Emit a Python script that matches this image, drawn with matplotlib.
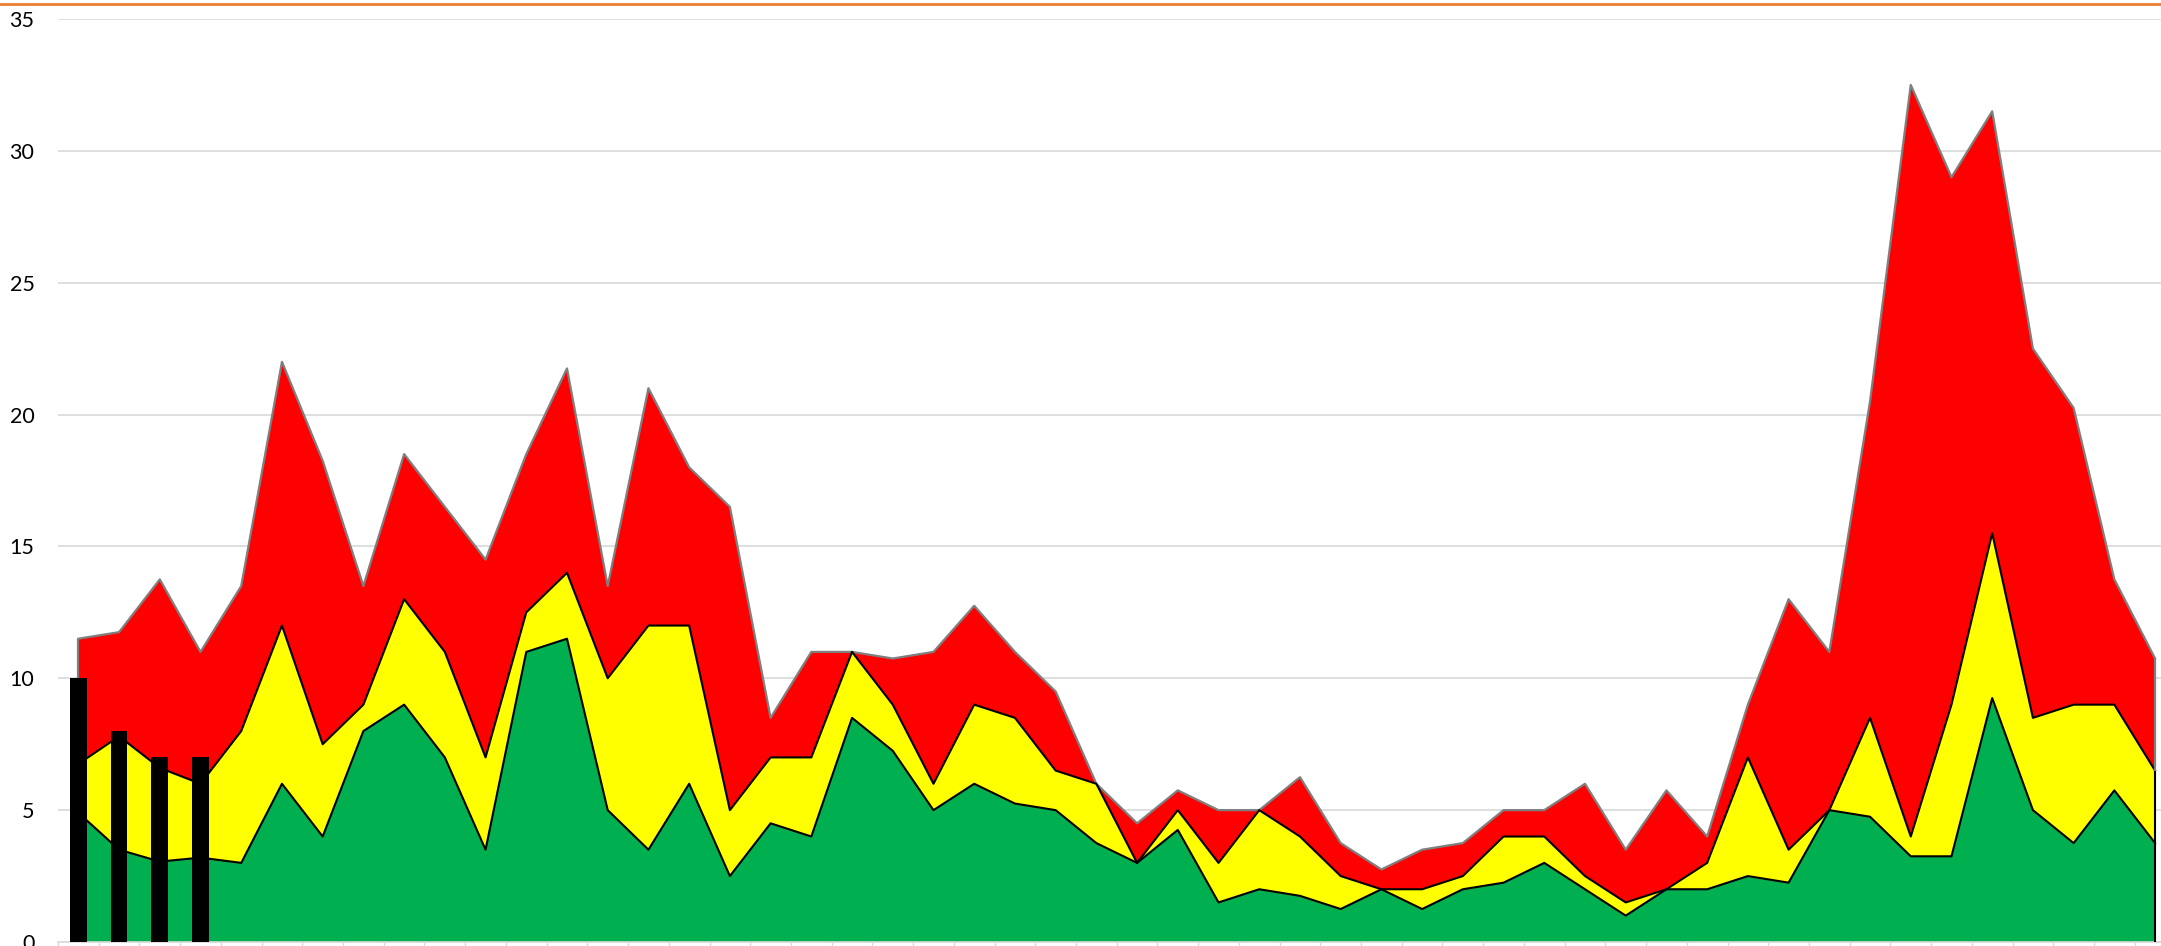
import matplotlib
matplotlib.use("Agg")
import matplotlib.pyplot as plt
from matplotlib.lines import Line2D
import numpy as np

# stacked series, one value per category (52 categories)
green = [4.9, 3.5, 3.05, 3.2, 3.0, 6.0, 4.0, 8.0, 9.0, 7.0, 3.5, 11.0, 11.5,
         5.0, 3.5, 6.0, 2.5, 4.5, 4.0, 8.5, 7.25, 5.0, 6.0, 5.25, 5.0, 3.75,
         3.0, 4.25, 1.5, 2.0, 1.75, 1.25, 2.0, 1.25, 2.0, 2.25, 3.0, 2.0, 1.0,
         2.0, 2.0, 2.5, 2.25, 5.0, 4.75, 3.25, 3.25, 9.25, 5.0, 3.75, 5.75, 3.75]
yellow = [1.85, 4.3, 3.55, 2.8, 5.0, 6.0, 3.5, 1.0, 4.0, 4.0, 3.5, 1.5, 2.5,
          5.0, 8.5, 6.0, 2.5, 2.5, 3.0, 2.5, 1.75, 1.0, 3.0, 3.25, 1.5, 2.25,
          0.0, 0.75, 1.5, 3.0, 2.25, 1.25, 0.0, 0.75, 0.5, 1.75, 1.0, 0.5, 0.5,
          0.0, 1.0, 4.5, 1.25, 0.0, 3.75, 0.75, 5.75, 6.25, 3.5, 5.25, 3.25, 2.75]
red = [4.75, 3.95, 7.15, 5.0, 5.5, 10.0, 10.75, 4.5, 5.5, 5.5, 7.5, 6.0, 7.75,
       3.5, 9.0, 6.0, 11.5, 1.5, 4.0, 0.0, 1.75, 5.0, 3.75, 2.5, 3.0, 0.0,
       1.5, 0.75, 2.0, 0.0, 2.25, 1.25, 0.75, 1.5, 1.25, 1.0, 1.0, 3.5, 2.0,
       3.75, 1.0, 2.0, 9.5, 6.0, 12.0, 28.5, 20.0, 16.0, 14.0, 11.25, 4.75, 4.25]
bars = [10, 8, 7, 7]

y_ticks = [0, 5, 10, 15, 20, 25, 30, 35]

W, H = 2161, 946
fig = plt.figure(figsize=(W / 100, H / 100), dpi=100)
ax = fig.add_axes([58 / W, 4 / H, (52 * 40.72) / W, (942 - 19) / H])

x = np.arange(len(green))
g = np.array(green)
gy = g + np.array(yellow)
tot = gy + np.array(red)

ax.stackplot(x, green, yellow, red, colors=["#00B050", "#FFFF00", "#FF0000"],
             linewidth=0, zorder=2)
ax.plot(x, tot, color="#7F7F7F", lw=1.6, zorder=3)
ax.plot(x, gy, color="black", lw=1.5, zorder=3)
ax.plot(x, g, color="black", lw=1.5, zorder=3)
# end edges of the area polygons
ax.vlines([x[0], x[-1]], [gy[0], gy[-1]], [tot[0], tot[-1]], color="#7F7F7F", lw=1.6, zorder=3)
ax.vlines([x[0], x[-1]], 0, [gy[0], gy[-1]], color="black", lw=1.5, zorder=3)

ax.bar(np.arange(len(bars)), bars, width=0.41, color="black", zorder=4)

ax.set_xlim(-0.5, len(green) - 0.5)
ax.set_ylim(0, 35)
ax.set_yticks(y_ticks)
ax.set_xticks(np.arange(-0.5, len(green), 1))
ax.set_xticklabels([])
ax.tick_params(axis="x", length=4.5, width=1, color="#D9D9D9", direction="out")
ax.tick_params(axis="y", length=0, pad=17, labelsize=15.5)
for lab in ax.get_yticklabels():
    lab.set_family("Lato")
ax.grid(axis="y", color="#D9D9D9", lw=1.2)
ax.set_axisbelow(True)
for s in ["left", "right", "top"]:
    ax.spines[s].set_visible(False)
ax.spines["bottom"].set_color("#D9D9D9")
ax.spines["bottom"].set_linewidth(1.2)

# orange rule across the top of the picture
fig.add_artist(Line2D([0, 1], [1 - 4 / H, 1 - 4 / H], transform=fig.transFigure,
                      color="#ED7D31", lw=2))

fig.savefig("out.png", dpi=100)
